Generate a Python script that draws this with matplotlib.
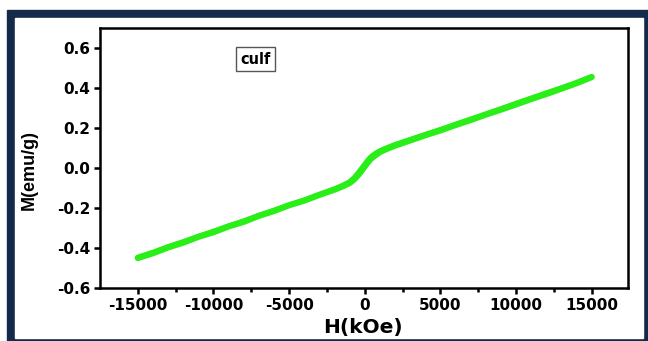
import numpy as np
import matplotlib.pyplot as plt
from matplotlib.patches import Rectangle

# Magnetization data (H in kOe as labelled, M in emu/g)
H = [-15000, -14000, -13000, -12000, -11000, -10000, -9000, -8000, -7000,
     -6000, -5000, -4000, -3000, -2000, -1500, -1000, -700, -400, -200, 0,
     200, 400, 700, 1000, 1500, 2000, 3000, 4000, 5000, 6000, 7000, 8000,
     9000, 10000, 11000, 12000, 13000, 14000, 15000]
M_up = [-0.450, -0.426, -0.397, -0.373, -0.344, -0.321, -0.292, -0.269,
        -0.239, -0.215, -0.186, -0.163, -0.134, -0.108, -0.093, -0.075,
        -0.057, -0.032, -0.012, 0.008, 0.028, 0.046, 0.064, 0.080, 0.097,
        0.112, 0.138, 0.164, 0.188, 0.215, 0.240, 0.267, 0.292, 0.318,
        0.345, 0.370, 0.397, 0.424, 0.455]
M_down = [-0.446, -0.421, -0.393, -0.368, -0.342, -0.316, -0.290, -0.264,
          -0.238, -0.211, -0.186, -0.160, -0.133, -0.104, -0.088, -0.068,
          -0.047, -0.020, 0.000, 0.020, 0.040, 0.057, 0.074, 0.087, 0.103,
          0.118, 0.143, 0.168, 0.193, 0.219, 0.245, 0.270, 0.297, 0.324,
          0.350, 0.376, 0.401, 0.428, 0.457]

xticks = [-15000, -10000, -5000, 0, 5000, 10000, 15000]
yticks = [-0.6, -0.4, -0.2, 0.0, 0.2, 0.4, 0.6]

W, Hpx = 648, 341
fig = plt.figure(figsize=(W / 100, Hpx / 100), dpi=100)
fig.patch.set_facecolor('white')

# navy frame round the chart
navy = '#142a4a'
fig.patches.append(Rectangle((7 / W, 0), (W - 7) / W, (Hpx - 10) / Hpx,
                             transform=fig.transFigure, color=navy, zorder=-2))
fig.patches.append(Rectangle((15 / W, 3 / Hpx), (643 - 15) / W, (338 - 18) / Hpx,
                             transform=fig.transFigure, color='white', zorder=-1))

ax = fig.add_axes([100 / W, 1 - 288 / Hpx, (628 - 100) / W, (288 - 28) / Hpx])
ax.set_zorder(1)
green = '#2aee18'
ax.plot(H, M_up, '-', color=green, lw=4.5, solid_capstyle='round')
ax.plot(H, M_down, '-', color=green, lw=3.5, solid_capstyle='round')

ax.set_xlim(-17500, 17400)
ax.set_ylim(-0.6, 0.7)
ax.set_xticks(xticks)
ax.set_yticks(yticks)
ax.set_xticks([-12500, -7500, -2500, 2500, 7500, 12500], minor=True)
ax.set_xticklabels([str(v) for v in xticks])
ax.set_yticklabels(['%.1f' % v for v in yticks])
ax.tick_params(axis='both', direction='out', length=4, width=1.8,
               labelsize=11, pad=3)
ax.tick_params(axis='x', which='minor', direction='out', length=3, width=1.8)
for lab in ax.get_xticklabels() + ax.get_yticklabels():
    lab.set_fontweight('bold')
    lab.set_family('DejaVu Sans')
for sp in ax.spines.values():
    sp.set_linewidth(1.8)

# axis titles placed like in the picture
fig.text(363 / W, 1 - 327 / Hpx, 'H(kOe)', fontsize=14.5, fontweight='bold',
         family='DejaVu Sans', ha='center', va='center')
fig.text(29 / W, 1 - 170 / Hpx, 'M(emu/g)', fontsize=13, fontweight='bold',
         family=['Liberation Sans Narrow', 'Liberation Sans'],
         rotation=90, ha='center', va='center')

ax.text(-7200, 0.545, 'culf', fontsize=10.5, fontweight='bold',
        family='DejaVu Sans', ha='center', va='center',
        bbox=dict(boxstyle='square,pad=0.3', fc='white', ec='#555555', lw=1))

fig.savefig('out.png', dpi=100)
